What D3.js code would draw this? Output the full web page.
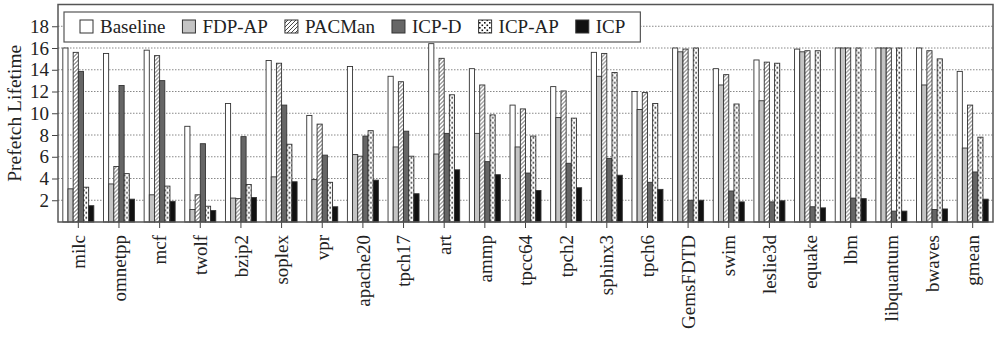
<!DOCTYPE html>
<html>
<head>
<meta charset="utf-8">
<script src="https://cdn.jsdelivr.net/npm/d3@7/dist/d3.min.js"></script>
<style>
  html, body { margin: 0; padding: 0; background: #fff; }
  svg text { font-family: "Liberation Serif", "DejaVu Serif", serif; fill: #222; }
</style>
</head>
<body>
<div id="chart"></div>
<script>
// benchmarks on the x axis
const categories = ["milc", "omnetpp", "mcf", "twolf", "bzip2", "soplex", "vpr", "apache20",
  "tpch17", "art", "ammp", "tpcc64", "tpch2", "sphinx3", "tpch6", "GemsFDTD", "swim",
  "leslie3d", "equake", "lbm", "libquantum", "bwaves", "gmean"];

const seriesNames = ["Baseline", "FDP-AP", "PACMan", "ICP-D", "ICP-AP", "ICP"];

// prefetch lifetime per benchmark
const baseline = [16.0, 15.5, 15.8, 8.8, 10.9, 14.85, 9.8, 14.3, 13.4, 16.4, 14.1, 10.75,
  12.45, 15.6, 12.0, 16.0, 14.1, 14.9, 15.9, 16.0, 16.0, 16.0, 13.85];
const fdpAp = [3.05, 3.5, 2.5, 1.15, 2.2, 4.15, 3.9, 6.2, 6.9, 6.25, 8.15, 6.9,
  9.6, 13.4, 10.35, 15.65, 12.6, 11.15, 15.65, 16.0, 16.0, 12.6, 6.8];
const pacman = [15.6, 5.1, 15.3, 2.5, 2.15, 14.6, 9.0, 6.05, 12.9, 15.05, 12.6, 10.4,
  12.05, 15.5, 11.9, 15.9, 13.55, 14.7, 15.75, 16.0, 16.0, 15.75, 10.75];
const icpD = [13.85, 12.55, 13.0, 7.2, 7.85, 10.75, 6.15, 7.9, 8.35, 8.15, 5.55, 4.5,
  5.4, 5.85, 3.65, 2.0, 2.85, 1.85, 1.4, 2.2, 1.0, 1.15, 4.6];
const icpAp = [3.2, 4.45, 3.3, 1.45, 3.45, 7.15, 3.65, 8.4, 6.05, 11.7, 9.85, 7.9,
  9.55, 13.75, 10.9, 16.0, 10.85, 14.6, 15.75, 16.0, 16.0, 15.0, 7.8];
const icp = [1.5, 2.1, 1.9, 1.05, 2.25, 3.7, 1.4, 3.85, 2.6, 4.8, 4.35, 2.9,
  3.15, 4.3, 3.0, 2.0, 1.85, 1.95, 1.3, 2.15, 1.0, 1.2, 2.1];

const yTicks = [2, 4, 6, 8, 10, 12, 14, 16, 18];

const seriesValues = [baseline, fdpAp, pacman, icpD, icpAp, icp];

const WIDTH = 996, HEIGHT = 339;
const MARGIN = {TOP: 4.5, RIGHT: 3, BOTTOM: 117, LEFT: 58};
const innerW = WIDTH - MARGIN.LEFT - MARGIN.RIGHT;
const innerH = HEIGHT - MARGIN.TOP - MARGIN.BOTTOM;

const svg = d3.select("#chart").append("svg")
  .attr("width", WIDTH)
  .attr("height", HEIGHT);

// fill patterns
const defs = svg.append("defs");
const hatch = defs.append("pattern")
  .attr("id", "hatch")
  .attr("patternUnits", "userSpaceOnUse")
  .attr("width", 4).attr("height", 4);
hatch.append("rect").attr("width", 4).attr("height", 4).attr("fill", "#fff");
hatch.append("path")
  .attr("d", "M-1,1 l2,-2 M0,4 l4,-4 M3,5 l2,-2")
  .attr("stroke", "#333").attr("stroke-width", 0.9);

const dots = defs.append("pattern")
  .attr("id", "dots")
  .attr("patternUnits", "userSpaceOnUse")
  .attr("width", 5).attr("height", 5);
dots.append("rect").attr("width", 5).attr("height", 5).attr("fill", "#fff");
dots.append("rect").attr("x", 0).attr("y", 0).attr("width", 1.6).attr("height", 1.6).attr("fill", "#111");
dots.append("rect").attr("x", 2.5).attr("y", 2.5).attr("width", 1.6).attr("height", 1.6).attr("fill", "#111");

const fills = ["#fff", "#c4c4c4", "url(#hatch)", "#666", "url(#dots)", "#111"];

const g = svg.append("g")
  .attr("transform", "translate(" + MARGIN.LEFT + "," + MARGIN.TOP + ")");

// scales
const x0 = d3.scaleBand().domain(categories).range([0, innerW]);
const groupW = 31;
const x1 = d3.scaleBand().domain(d3.range(seriesNames.length))
  .range([(x0.bandwidth() - groupW) / 2, (x0.bandwidth() + groupW) / 2]);
const y = d3.scaleLinear().domain([0, 20]).range([innerH, 0]);

// dotted grid lines
g.append("g")
  .selectAll("line")
  .data(yTicks)
  .enter()
  .append("line")
  .attr("x1", 0).attr("x2", innerW)
  .attr("y1", (d) => y(d)).attr("y2", (d) => y(d))
  .attr("stroke", "#888")
  .attr("stroke-width", 1)
  .attr("stroke-dasharray", "1.5,1.5");

// bars
const groups = g.append("g")
  .selectAll("g")
  .data(categories)
  .enter()
  .append("g")
  .attr("transform", (d) => "translate(" + x0(d) + ",0)");

groups.selectAll("rect")
  .data((d, i) => seriesValues.map((vals, s) => ({s: s, v: vals[i]})))
  .enter()
  .append("rect")
  .attr("x", (d) => x1(d.s))
  .attr("y", (d) => y(d.v))
  .attr("width", x1.bandwidth())
  .attr("height", (d) => innerH - y(d.v))
  .attr("fill", (d) => fills[d.s])
  .attr("stroke", "#333")
  .attr("stroke-width", 0.9);

// y axis
const yAxis = g.append("g")
  .call(d3.axisLeft(y).tickValues(yTicks).tickSize(6).tickPadding(3));
yAxis.select(".domain").remove();
yAxis.selectAll("line").attr("stroke", "#444");
yAxis.selectAll("text")
  .style("font-size", "19px")
  .style("font-family", "'Liberation Serif', serif")
  .attr("fill", "#222");

// x axis
const xAxis = g.append("g")
  .attr("transform", "translate(0," + innerH + ")")
  .call(d3.axisBottom(x0).tickSize(6).tickPadding(8));
xAxis.select(".domain").remove();
xAxis.selectAll("line").attr("stroke", "#444");
xAxis.selectAll("text")
  .style("font-size", "19px")
  .style("font-family", "'Liberation Serif', serif")
  .attr("fill", "#222")
  .attr("text-anchor", "end")
  .attr("transform", "rotate(-90)")
  .attr("x", -13)
  .attr("y", 0)
  .attr("dy", "0.35em");

// plot frame
g.append("rect")
  .attr("x", 0).attr("y", 0)
  .attr("width", innerW).attr("height", innerH)
  .attr("fill", "none")
  .attr("stroke", "#555")
  .attr("stroke-width", 1.5);

// y axis label
svg.append("text")
  .attr("transform", "translate(21," + (MARGIN.TOP + y(10.0)) + ") rotate(-90)")
  .attr("text-anchor", "middle")
  .style("font-size", "19.5px")
  .text("Prefetch Lifetime");

// legend
const legend = svg.append("g").attr("transform", "translate(64,12)");
const legendBox = legend.append("rect")
  .attr("x", 0).attr("y", 0)
  .attr("height", 30)
  .attr("fill", "#fff")
  .attr("stroke", "#555")
  .attr("stroke-width", 1.2);

let lx = 16;
seriesNames.forEach((name, s) => {
  legend.append("rect")
    .attr("x", lx).attr("y", 8)
    .attr("width", 13).attr("height", 13)
    .attr("fill", fills[s])
    .attr("stroke", "#333")
    .attr("stroke-width", 1);
  const t = legend.append("text")
    .attr("x", lx + 20).attr("y", 21)
    .style("font-size", "19px")
    .text(name);
  lx += 20 + t.node().getComputedTextLength() + 17;
});
legendBox.attr("width", lx - 17 + 15);
</script>
</body>
</html>
